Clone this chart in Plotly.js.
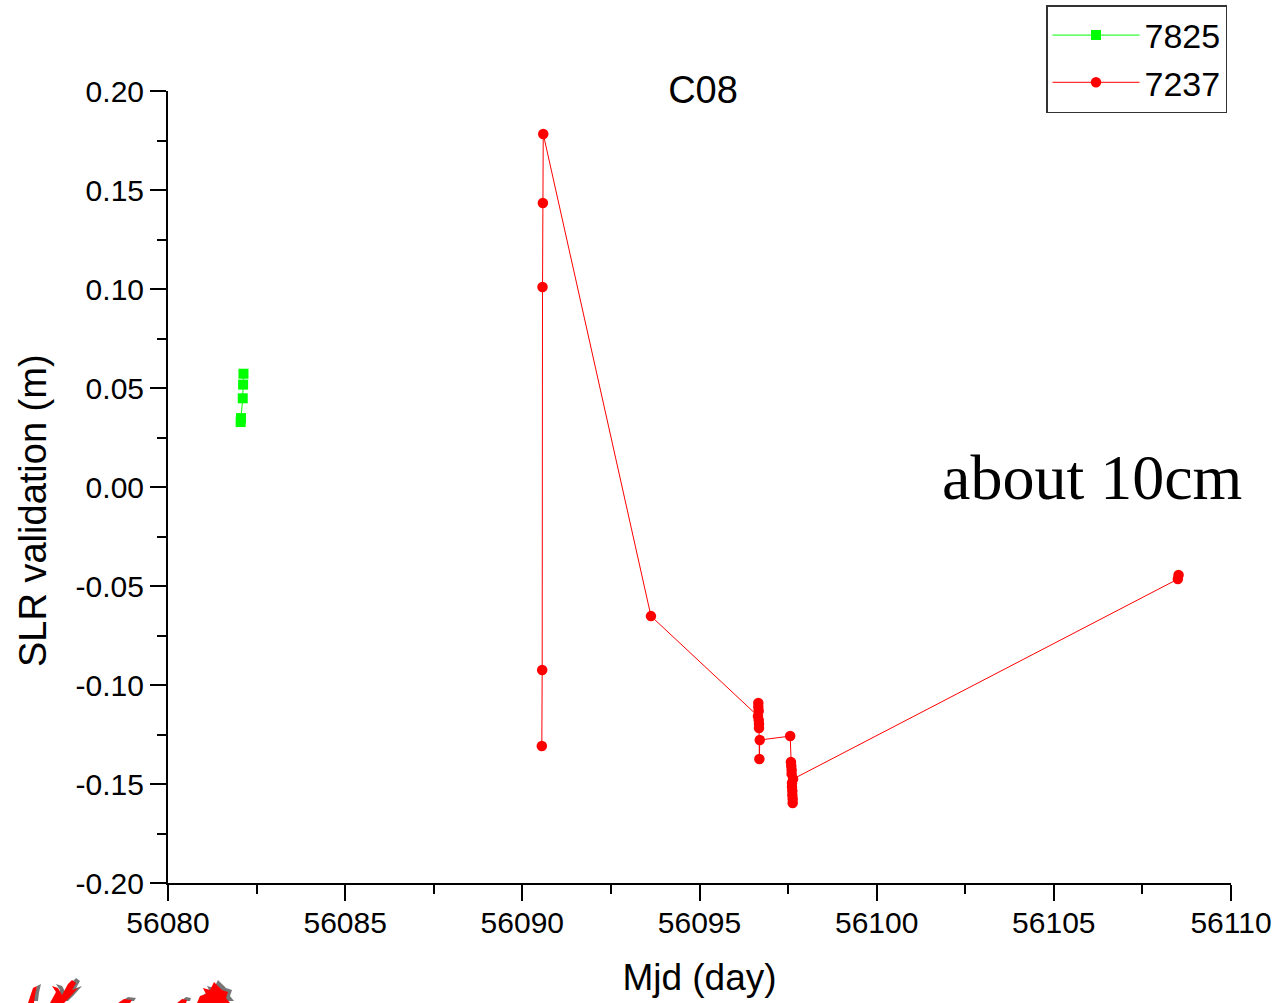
<!DOCTYPE html>
<html>
<head>
<meta charset="utf-8">
<script src="https://cdn.plot.ly/plotly-3.0.1.min.js"></script>
<style>
  html, body { margin: 0; padding: 0; background: #ffffff; }
  #chart { width: 1279px; height: 1003px; }
</style>
</head>
<body>
<div id="chart"></div>
<script>
// SLR validation residuals for C08, per station
const station7825Mjd = [56082.05, 56082.06, 56082.11, 56082.12, 56082.13];
const station7825Res = [0.0328, 0.0348, 0.0448, 0.0517, 0.0572];

const station7237Mjd = [
  56090.55, 56090.56, 56090.57, 56090.58, 56090.59,
  56093.63,
  56096.65, 56096.66, 56096.66, 56096.67, 56096.67, 56096.68, 56096.68, 56096.69, 56096.70,
  56097.56,
  56097.58, 56097.59, 56097.60, 56097.60, 56097.61, 56097.61, 56097.62, 56097.62, 56097.63, 56097.63, 56097.64,
  56108.50, 56108.52
];
const station7237Res = [
  -0.1308, -0.0924, 0.1010, 0.1434, 0.1783,
  -0.0652,
  -0.1157, -0.1091, -0.1111, -0.1131, -0.1177, -0.1197, -0.1217, -0.1374, -0.1278,
  -0.1258,
  -0.1389, -0.1409, -0.1429, -0.1449, -0.1495, -0.1515, -0.1535, -0.1556, -0.1576, -0.1596, -0.1475,
  -0.0465, -0.0444
];

const stationNames = ['7825', '7237'];
const xTickVals = [56080, 56085, 56090, 56095, 56100, 56105, 56110];
const yTickVals = [-0.20, -0.15, -0.10, -0.05, 0.00, 0.05, 0.10, 0.15, 0.20];
const yTickText = ['-0.20', '-0.15', '-0.10', '-0.05', '0.00', '0.05', '0.10', '0.15', '0.20'];

const sans = 'Liberation Sans, Arial, Helvetica, sans-serif';

const traces = [
  {
    x: station7825Mjd, y: station7825Res, name: stationNames[0],
    type: 'scatter', mode: 'lines+markers',
    line: { color: '#00ff00', width: 1 },
    marker: { symbol: 'square', color: '#00ff00', size: 10 }
  },
  {
    x: station7237Mjd, y: station7237Res, name: stationNames[1],
    type: 'scatter', mode: 'lines+markers',
    line: { color: '#ff0000', width: 1 },
    marker: { symbol: 'circle', color: '#ff0000', size: 10.5 }
  }
];

// decorative red brush marks in the lower-left corner (paper coords from pixel offsets)
const plotL = 168, plotR = 1231, plotT = 91, plotB = 883;
function px(x, y) {
  return ((x - plotL) / (plotR - plotL)).toFixed(4) + ',' + ((plotB - y) / (plotB - plotT)).toFixed(4);
}
function brush(points, dx, dy) {
  return 'M' + points.map(p => px(p[0] + dx, p[1] + dy)).join(' L') + ' Z';
}
const brushShapes = [
  [[28, 1003], [33, 988], [37, 986], [35, 995], [34, 1003]],
  [[50, 1003], [56, 992], [52, 986], [58, 988], [62, 995], [68, 984], [72, 980], [76, 983], [72, 990], [78, 988], [70, 997], [64, 1003]],
  [[118, 1003], [124, 999], [132, 1000], [130, 1003]],
  [[177, 1003], [182, 999], [187, 1000], [186, 1003]],
  [[197, 1003], [200, 996], [206, 994], [203, 988], [210, 990], [214, 982], [218, 986], [222, 990], [228, 992], [226, 998], [230, 1003]]
];
const shapes = [];
brushShapes.forEach(pts => {
  shapes.push({ type: 'path', xref: 'paper', yref: 'paper', path: brush(pts, 4, -2),
    fillcolor: 'rgba(60,60,60,0.7)', line: { width: 0 }, layer: 'above' });
});
brushShapes.forEach(pts => {
  shapes.push({ type: 'path', xref: 'paper', yref: 'paper', path: brush(pts, 0, 0),
    fillcolor: '#ff0000', line: { width: 0 }, layer: 'above' });
});

const layout = {
  width: 1279, height: 1003,
  margin: { l: plotL, r: 1279 - plotR, t: plotT, b: 1003 - plotB, pad: 0, autoexpand: false },
  paper_bgcolor: '#ffffff', plot_bgcolor: '#ffffff',
  showlegend: true,
  title: {
    text: 'C08', font: { family: sans, size: 38, color: '#000' },
    xref: 'container', yref: 'container', x: 703 / 1279, xanchor: 'center',
    y: 1 - 90 / 1003, yanchor: 'middle'
  },
  xaxis: {
    range: [56080, 56110], tickvals: xTickVals, ticktext: xTickVals.map(String),
    showgrid: false, zeroline: false,
    showline: true, linecolor: '#000', linewidth: 2,
    ticks: 'outside', ticklen: 16, tickwidth: 2, tickcolor: '#000',
    minor: { dtick: 2.5, ticks: 'outside', ticklen: 9, tickwidth: 2, tickcolor: '#000', showgrid: false },
    tickfont: { family: sans, size: 30, color: '#000' },
    ticklabelstandoff: -4,
    title: { text: 'Mjd (day)', font: { family: sans, size: 37, color: '#000' }, standoff: 26 },
    automargin: false
  },
  yaxis: {
    range: [-0.2, 0.2], tickvals: yTickVals, ticktext: yTickText,
    showgrid: false, zeroline: false,
    showline: true, linecolor: '#000', linewidth: 2,
    ticks: 'outside', ticklen: 16, tickwidth: 2, tickcolor: '#000',
    minor: { dtick: 0.025, ticks: 'outside', ticklen: 9, tickwidth: 2, tickcolor: '#000', showgrid: false },
    tickfont: { family: sans, size: 30, color: '#000' },
    automargin: false
  },
  legend: {
    x: (1046 - plotL) / (plotR - plotL), xanchor: 'left',
    y: (plotB - 5) / (plotB - plotT), yanchor: 'top',
    bgcolor: '#ffffff', bordercolor: '#333', borderwidth: 1.5,
    font: { family: sans, size: 34, color: '#000' },
    itemwidth: 87, tracegroupgap: 0
  },
  annotations: [
    {
      // y-axis title, set as a rotated label so it sits where the axis caption belongs
      text: 'SLR validation (m)', xref: 'paper', yref: 'paper',
      x: (33 - plotL) / (plotR - plotL), y: (plotB - 511) / (plotB - plotT),
      xanchor: 'center', yanchor: 'middle', textangle: -90, showarrow: false,
      font: { family: sans, size: 38, color: '#000' }
    },
    {
      text: 'about 10cm', xref: 'paper', yref: 'paper',
      x: (1092 - plotL) / (plotR - plotL), y: (plotB - 477) / (plotB - plotT),
      xanchor: 'center', yanchor: 'middle', showarrow: false,
      font: { family: 'Liberation Serif, Times New Roman, serif', size: 64, color: '#000' }
    }
  ],
  shapes: shapes
};

Plotly.newPlot('chart', traces, layout, { displayModeBar: false, staticPlot: true });
</script>
</body>
</html>
